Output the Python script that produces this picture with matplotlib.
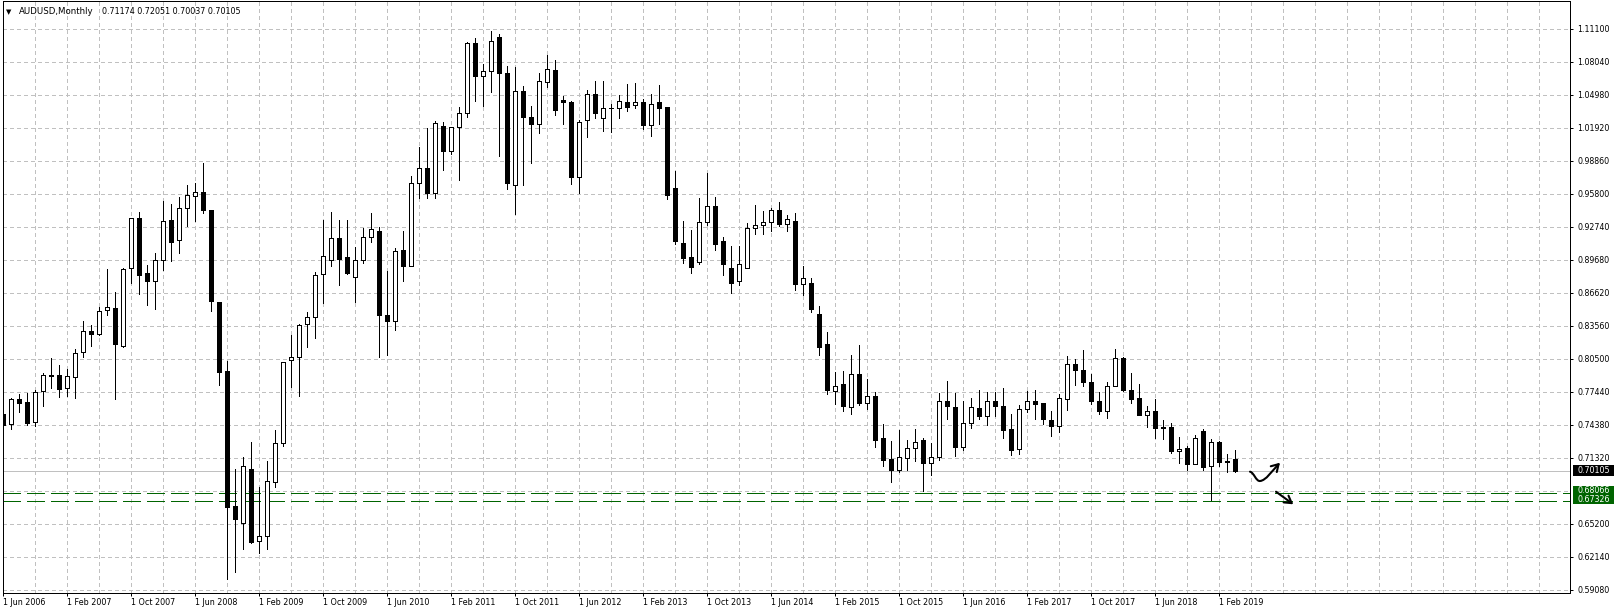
import numpy as np
import matplotlib
matplotlib.use("Agg")
import matplotlib.pyplot as plt
import matplotlib.transforms as mtransforms
from matplotlib.patches import Rectangle, FancyArrowPatch
from matplotlib.path import Path

plt.rcParams['lines.scale_dashes'] = False
plt.rcParams['font.family'] = ['DejaVu Sans']

# ---------------- data (monthly AUDUSD candles, Jun 2006 .. Apr 2019) ----------------
symbol_title = "AUDUSD,Monthly"
header_values = "0.71174 0.72051 0.70037 0.70105"

opens = [0.7537, 0.7441, 0.7673, 0.7645, 0.7460, 0.7747, 0.7892, 0.7896, 0.7775, 0.7883,
         0.8109, 0.8306, 0.8282, 0.8498, 0.8517, 0.8165, 0.8888, 0.9351, 0.8841, 0.8767,
         0.8962, 0.9333, 0.9147, 0.9444, 0.9555, 0.9592, 0.9429, 0.8572, 0.7933, 0.6684,
         0.6529, 0.7024, 0.6359, 0.6403, 0.6906, 0.7264, 0.8042, 0.8065, 0.8373, 0.8439,
         0.8840, 0.8969, 0.9165, 0.8989, 0.8810, 0.8969, 0.9175, 0.9238, 0.8456, 0.8403,
         0.9062, 0.8906, 0.9675, 0.9815, 0.9589, 1.0211, 0.9976, 1.0195, 1.0330, 1.0973,
         1.0672, 1.0718, 1.1030, 1.0701, 0.9662, 1.0532, 1.0288, 1.0226, 1.0619, 1.0730,
         1.0452, 1.0433, 0.9738, 1.0266, 1.0507, 1.0285, 1.0377, 1.0372, 1.0433, 1.0405,
         1.0427, 1.0217, 1.0427, 1.0381, 0.9629, 0.9120, 0.8990, 0.8946, 0.9317, 0.9463,
         0.9138, 0.8888, 0.8773, 0.8894, 0.9265, 0.9293, 0.9314, 0.9432, 0.9299, 0.9330,
         0.8745, 0.8755, 0.8467, 0.8189, 0.7753, 0.7812, 0.7602, 0.7911, 0.7642, 0.7707,
         0.7317, 0.7117, 0.7021, 0.7126, 0.7225, 0.7293, 0.7086, 0.7141, 0.7661, 0.7599,
         0.7231, 0.7457, 0.7596, 0.7518, 0.7661, 0.7614, 0.7395, 0.7215, 0.7586, 0.7661,
         0.7636, 0.7478, 0.7426, 0.7679, 0.8004, 0.7948, 0.7837, 0.7661, 0.7568, 0.7800,
         0.8059, 0.7759, 0.7688, 0.7531, 0.7568, 0.7419, 0.7419, 0.7197, 0.7222, 0.7073,
         0.7382, 0.7055, 0.7277, 0.7092, 0.71174]

highs = [0.7559, 0.7685, 0.7722, 0.7729, 0.7756, 0.7914, 0.8057, 0.7991, 0.7957, 0.8140,
         0.8399, 0.8362, 0.8529, 0.8881, 0.8665, 0.8891, 0.9355, 0.9410, 0.8919, 0.9027,
         0.9512, 0.9484, 0.9546, 0.9660, 0.9679, 0.9864, 0.9432, 0.8574, 0.8028, 0.7024,
         0.7138, 0.7277, 0.6857, 0.7098, 0.7386, 0.8020, 0.8267, 0.8370, 0.8479, 0.8850,
         0.9334, 0.9413, 0.9334, 0.9334, 0.9082, 0.9261, 0.9400, 0.9274, 0.8860, 0.9075,
         0.9231, 0.9741, 1.0009, 1.0188, 1.0258, 1.0245, 1.0200, 1.0380, 1.0983, 1.1023,
         1.0781, 1.1085, 1.1062, 1.0768, 1.0758, 1.0575, 1.0390, 1.0696, 1.0863, 1.0823,
         1.0483, 1.0440, 1.0260, 1.0544, 1.0622, 1.0628, 1.0415, 1.0492, 1.0594, 1.0603,
         1.0461, 1.0501, 1.0585, 1.0387, 0.9793, 0.9324, 0.9240, 0.9537, 0.9772, 0.9549,
         0.9178, 0.9092, 0.9092, 0.9308, 0.9472, 0.9416, 0.9450, 0.9506, 0.9379, 0.9404,
         0.8912, 0.8801, 0.8541, 0.8300, 0.7923, 0.7939, 0.8081, 0.8174, 0.7858, 0.7744,
         0.7441, 0.7287, 0.7389, 0.7293, 0.7395, 0.7311, 0.7265, 0.7729, 0.7840, 0.7729,
         0.7654, 0.7682, 0.7763, 0.7738, 0.7738, 0.7781, 0.7534, 0.7617, 0.7747, 0.7756,
         0.7640, 0.7562, 0.7719, 0.8072, 0.8050, 0.8127, 0.7905, 0.7738, 0.7831, 0.8143,
         0.8065, 0.7920, 0.7818, 0.7608, 0.7679, 0.7484, 0.7457, 0.7321, 0.7240, 0.7345,
         0.7401, 0.7302, 0.7283, 0.7169, 0.72051]

lows = [0.7271, 0.7401, 0.7559, 0.7438, 0.7423, 0.7615, 0.7778, 0.7698, 0.7707, 0.7688,
        0.8069, 0.8171, 0.8273, 0.8455, 0.7679, 0.8160, 0.8755, 0.8653, 0.8551, 0.8514,
        0.8875, 0.8959, 0.9033, 0.9283, 0.9330, 0.9404, 0.8492, 0.7806, 0.6004, 0.6072,
        0.6285, 0.6341, 0.6248, 0.6282, 0.6860, 0.7241, 0.7784, 0.7704, 0.8158, 0.8241,
        0.8565, 0.8906, 0.8734, 0.8840, 0.8572, 0.8936, 0.9128, 0.8065, 0.8085, 0.8317,
        0.8767, 0.8906, 0.9542, 0.9542, 0.9542, 0.9801, 0.9950, 0.9708, 1.0291, 1.0440,
        1.0390, 1.0519, 0.9930, 0.9625, 0.9393, 0.9662, 0.9864, 1.0143, 1.0569, 1.0309,
        1.0226, 0.9670, 0.9586, 1.0105, 1.0282, 1.0161, 1.0152, 1.0282, 1.0347, 1.0374,
        1.0177, 1.0115, 1.0226, 0.9531, 0.9110, 0.8937, 0.8844, 0.8925, 0.9286, 0.9055,
        0.8823, 0.8659, 0.8730, 0.8890, 0.9206, 0.9206, 0.9231, 0.9280, 0.9234, 0.8690,
        0.8640, 0.8483, 0.8084, 0.7722, 0.7630, 0.7565, 0.7537, 0.7620, 0.7583, 0.7231,
        0.7055, 0.6906, 0.7000, 0.7021, 0.7101, 0.6820, 0.6971, 0.7110, 0.7487, 0.7147,
        0.7203, 0.7407, 0.7491, 0.7438, 0.7518, 0.7311, 0.7157, 0.7166, 0.7552, 0.7491,
        0.7444, 0.7330, 0.7367, 0.7574, 0.7809, 0.7797, 0.7630, 0.7537, 0.7500, 0.7797,
        0.7755, 0.7636, 0.7525, 0.7419, 0.7314, 0.7305, 0.7178, 0.7080, 0.7021, 0.7070,
        0.7015, 0.6736, 0.7055, 0.6996, 0.70037]

closes = [0.7432, 0.7673, 0.7642, 0.7457, 0.7738, 0.7896, 0.7896, 0.7772, 0.7886, 0.8099,
          0.8303, 0.8282, 0.8489, 0.8526, 0.8189, 0.8878, 0.9351, 0.8829, 0.8767, 0.8962,
          0.9323, 0.9135, 0.9444, 0.9565, 0.9592, 0.9429, 0.8588, 0.7929, 0.6678, 0.6560,
          0.7052, 0.6353, 0.6403, 0.6913, 0.7264, 0.8016, 0.8068, 0.8367, 0.8439, 0.8830,
          0.9006, 0.9165, 0.8976, 0.8847, 0.8969, 0.9175, 0.9257, 0.8456, 0.8403, 0.9052,
          0.8910, 0.9675, 0.9815, 0.9589, 1.0231, 0.9976, 1.0195, 1.0330, 1.0973, 1.0672,
          1.0718, 1.0999, 1.0701, 0.9681, 1.0532, 1.0287, 1.0226, 1.0628, 1.0739, 1.0356,
          1.0433, 0.9738, 1.0241, 1.0507, 1.0331, 1.0377, 1.0372, 1.0442, 1.0384, 1.0427,
          1.0217, 1.0415, 1.0374, 0.9568, 0.9141, 0.8983, 0.8900, 0.9320, 0.9463, 0.9113,
          0.8931, 0.8752, 0.8931, 0.9265, 0.9293, 0.9314, 0.9432, 0.9299, 0.9348, 0.8742,
          0.8798, 0.8511, 0.8161, 0.7759, 0.7800, 0.7611, 0.7911, 0.7639, 0.7707, 0.7296,
          0.7110, 0.7018, 0.7141, 0.7222, 0.7280, 0.7083, 0.7141, 0.7661, 0.7611, 0.7231,
          0.7457, 0.7605, 0.7518, 0.7661, 0.7611, 0.7389, 0.7203, 0.7586, 0.7661, 0.7630,
          0.7491, 0.7426, 0.7688, 0.8004, 0.7945, 0.7834, 0.7661, 0.7568, 0.7800, 0.8059,
          0.7759, 0.7679, 0.7528, 0.7568, 0.7410, 0.7410, 0.7197, 0.7215, 0.7073, 0.7317,
          0.7045, 0.7277, 0.7092, 0.7100, 0.70105]

x_tick_labels = ["1 Jun 2006", "1 Feb 2007", "1 Oct 2007", "1 Jun 2008", "1 Feb 2009",
                 "1 Oct 2009", "1 Jun 2010", "1 Feb 2011", "1 Oct 2011", "1 Jun 2012",
                 "1 Feb 2013", "1 Oct 2013", "1 Jun 2014", "1 Feb 2015", "1 Oct 2015",
                 "1 Jun 2016", "1 Feb 2017", "1 Oct 2017", "1 Jun 2018", "1 Feb 2019"]
x_label_every = 8      # bars between date labels
x_grid_every = 4       # bars between vertical grid lines

y_grid_labels = ["0.59080", "0.62140", "0.65200", "0.68260", "0.71320", "0.74380",
                 "0.77440", "0.80500", "0.83560", "0.86620", "0.89680", "0.92740",
                 "0.95800", "0.98860", "1.01920", "1.04980", "1.08040", "1.11100"]
hidden_y_labels = ["0.68260"]          # covered by the level tags
current_price = 0.70105
level_prices = [0.68066, 0.67326]
level_labels = ["0.68066", "0.67326"]

# ---------------- layout (pixel geometry) ----------------
W, H, DPI = 1617, 613, 100
PT = 72.0 / DPI                     # points per pixel
frame_l, frame_r, frame_t, frame_b = 2.7, 1570.0, 1.0, 592.7
ref_price, ref_row, px_per_unit = 0.98860, 160.7, 1078.4
bar0_px, bar_px = 3.3, 8.0


def price_at(row):
    return ref_price - (row - ref_row) / px_per_unit


def bar_at(col):
    return (col - bar0_px) / bar_px


fig = plt.figure(figsize=(W / DPI, H / DPI), dpi=DPI, facecolor='white')
ax = fig.add_axes([frame_l / W, 1 - frame_b / H, (frame_r - frame_l) / W, (frame_b - frame_t) / H])
ax.set_facecolor('white')
ax.set_xlim(bar_at(frame_l), bar_at(frame_r))
ax.set_ylim(price_at(frame_b), price_at(frame_t))

o = np.array(opens); h = np.array(highs); l = np.array(lows); c = np.array(closes)
idx = np.arange(len(o))

# grid
grid_kw = dict(color='#c0c0c0', lw=PT, dashes=(3 * PT, 3 * PT), zorder=0, antialiased=False)
for v in y_grid_labels:
    ax.axhline(float(v), **grid_kw)
for gx in np.arange(0, bar_at(frame_r), x_grid_every):
    ax.axvline(gx, **grid_kw)

# current price line and levels
ax.axhline(current_price, color='#c0c0c0', lw=PT, zorder=1, antialiased=False)
for lv in level_prices:
    ax.axhline(lv, color='#006400', lw=PT, dashes=(18 * PT, 6 * PT), zorder=1,
               antialiased=False)

# candles
ax.vlines(idx, l, h, color='black', lw=PT, zorder=3, antialiased=False)
up = c >= o
bottom = np.minimum(o, c)
height = np.abs(c - o)
ax.bar(idx[up], height[up], bottom=bottom[up], width=0.5, facecolor='white',
       edgecolor='black', linewidth=PT, zorder=4, antialiased=False)
ax.bar(idx[~up], height[~up], bottom=bottom[~up], width=0.5, facecolor='black',
       edgecolor='black', linewidth=PT, zorder=4, antialiased=False)

# axes / ticks
for s in ax.spines.values():
    s.set_color('black')
    s.set_linewidth(PT)
ax.yaxis.tick_right()
yt = [float(v) for v in y_grid_labels if v not in hidden_y_labels]
ax.set_yticks(yt)
ax.set_yticklabels([v for v in y_grid_labels if v not in hidden_y_labels])
ax.tick_params(axis='y', length=3 * PT, width=PT, pad=4 * PT, labelsize=5.7,
               direction='out', colors='black')
xt = np.arange(len(x_tick_labels)) * x_label_every
ax.set_xticks(xt)
ax.set_xticklabels(x_tick_labels, ha='left')
ax.tick_params(axis='x', length=3 * PT, width=PT, pad=2 * PT, labelsize=5.8,
               direction='out', colors='black')

# price tags on the right
tr = mtransforms.blended_transform_factory(fig.transFigure, ax.transData)
tag_x0, tag_x1 = 1572.7 / W, 1614.0 / W
half = 5.5 / px_per_unit
fig.add_artist(Rectangle((tag_x0, current_price - half), tag_x1 - tag_x0, 2 * half,
                         transform=tr, facecolor='black', edgecolor='none', zorder=5))
fig.text(1577 / W, current_price, f"{current_price:.5f}", transform=tr, color='white',
         fontsize=5.7, va='center', ha='left', zorder=6)
g_top = max(level_prices) + 6.8 / px_per_unit
g_bot = min(level_prices) - 3.5 / px_per_unit
fig.add_artist(Rectangle((tag_x0, g_bot), tag_x1 - tag_x0, g_top - g_bot, transform=tr,
                         facecolor='#006400', edgecolor='none', zorder=5))
label_shift = [2.1, 0.8]
for lv, lab, sh in zip(level_prices, level_labels, label_shift):
    fig.text(1577 / W, lv + sh / px_per_unit, lab, transform=tr, color='white',
             fontsize=5.7, va='center', ha='left', zorder=6)

# header
fig.text(5.5 / W, 1 - 12 / H, "\u25bc", fontsize=5, va='center', ha='left', color='black')
fig.text(19 / W, 1 - 12 / H, symbol_title, fontsize=6.2, va='center', ha='left', color='black')
fig.text(102 / W, 1 - 12 / H, header_values, fontsize=5.8, va='center', ha='left', color='black')

# hand-drawn arrows
def P(col, row):
    return (bar_at(col), price_at(row))

squiggle = Path([P(1250, 471.7), P(1254, 472.5), P(1256, 481.5), P(1260, 481.0),
                 P(1266, 480.5), P(1272, 471.0), P(1280, 462.7)],
                [Path.MOVETO, Path.CURVE4, Path.CURVE4, Path.CURVE4,
                 Path.CURVE4, Path.CURVE4, Path.CURVE4])
ax.add_patch(FancyArrowPatch(path=squiggle, arrowstyle='->,head_length=0.5,head_width=0.3',
                             mutation_scale=10, lw=1.5, color='black', zorder=6,
                             capstyle='round', joinstyle='round'))
ax.add_patch(FancyArrowPatch(P(1276, 491.7), P(1293.3, 504.3),
                             arrowstyle='->,head_length=0.5,head_width=0.3',
                             mutation_scale=10, lw=1.5, color='black', zorder=6,
                             shrinkA=0, shrinkB=0))

fig.savefig('out.png', dpi=DPI, facecolor='white')
